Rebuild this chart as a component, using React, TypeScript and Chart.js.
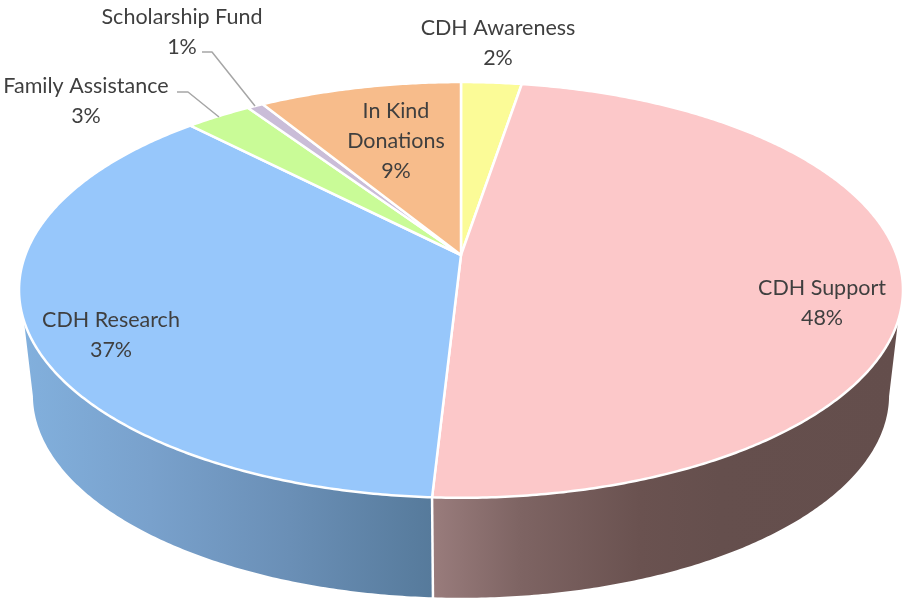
import React, { useEffect, useRef } from "react";
import { Chart, registerables } from "chart.js";

Chart.register(...registerables);

const categories = ["CDH Awareness", "CDH Support", "CDH Research", "Family Assistance", "Scholarship Fund", "In Kind Donations"];
const shares = [2.6, 48.28, 36.87, 2.84, 0.7, 8.71];
const percentLabels = ["2%", "48%", "37%", "3%", "1%", "9%"];
const sliceColors = ["#fbfb97", "#fcc8c9", "#97c7fb", "#c9fb97", "#cabdd8", "#f7bc8b"];

const FONT = "21.5px Lato";
const TEXT = "#3f3f3f";
const LEADER = "#a6a6a6";
const labelLayout: { x: number; y: number; lines: string[] }[] = [
  { x: 498, y: 28, lines: ["CDH Awareness"] },
  { x: 822, y: 288, lines: ["CDH Support"] },
  { x: 111, y: 320, lines: ["CDH Research"] },
  { x: 86, y: 86, lines: ["Family Assistance"] },
  { x: 182, y: 17, lines: ["Scholarship Fund"] },
  { x: 396, y: 111, lines: ["In Kind", "Donations"] },
];
const leaders: number[][][] = [
  [[177, 92], [188, 92], [219, 117]],
  [[202, 52], [212, 52], [255, 106]],
];

// Projection of the flat pie to the tilted perspective view
const TOP = { x0: 461, y0: 255, c: 435.7, b: 202, a: 0.168 };
const BOTTOM = { x0: 461, y0: 361, c: 422, b: 197, a: 0.168 };
const deg = Math.PI / 180;

function project(p: typeof TOP, angle: number, r = 1) {
  const u = r * Math.cos(angle);
  const v = r * Math.sin(angle);
  const w = 1 - p.a * v;
  return { x: p.x0 + (p.c * u) / w, y: p.y0 + (p.b * v) / w };
}

function rim(p: typeof TOP, from: number, to: number) {
  const n = Math.max(2, Math.ceil(Math.abs(to - from) / (0.5 * deg)));
  const out: { x: number; y: number }[] = [];
  for (let i = 0; i <= n; i++) out.push(project(p, from + ((to - from) * i) / n));
  return out;
}

const piePerspective = {
  id: "piePerspective",
  beforeDatasetsDraw(chart: any) {
    const ctx: CanvasRenderingContext2D = chart.ctx;
    const arcs = chart.getDatasetMeta(0).data as any[];

    const wallFill = (index: number) => {
      const g = ctx.createLinearGradient(22, 0, 900, 0);
      if (index === 1) {
        g.addColorStop(0.468, "#997c7c");
        g.addColorStop(0.567, "#7e6463");
        g.addColorStop(0.704, "#6a5250");
        g.addColorStop(0.795, "#654f4d");
        g.addColorStop(1, "#644e4c");
      } else {
        g.addColorStop(0, "#82b0dd");
        g.addColorStop(0.146, "#79a1cc");
        g.addColorStop(0.305, "#6a8fb6");
        g.addColorStop(0.468, "#567a9b");
      }
      return g;
    };

    // side wall
    arcs.forEach((arc, i) => {
      const topFrom = Math.max(arc.startAngle, 18 * deg);
      const topTo = Math.min(arc.endAngle, 162 * deg);
      const botFrom = Math.max(arc.startAngle, 10 * deg);
      const botTo = Math.min(arc.endAngle, 170 * deg);
      if (topTo <= topFrom) return;
      const pts = [...rim(TOP, topFrom, topTo), ...rim(BOTTOM, botTo, botFrom)];
      ctx.beginPath();
      pts.forEach((p, k) => (k ? ctx.lineTo(p.x, p.y) : ctx.moveTo(p.x, p.y)));
      ctx.closePath();
      ctx.fillStyle = wallFill(i);
      ctx.fill();
    });
    // seams on the wall
    ctx.strokeStyle = "#ffffff";
    ctx.lineWidth = 2.5;
    arcs.forEach((arc) => {
      const a = arc.endAngle;
      if (a > 18 * deg && a < 162 * deg) {
        const t = project(TOP, a);
        const b = project(BOTTOM, a);
        ctx.beginPath();
        ctx.moveTo(t.x, t.y);
        ctx.lineTo(b.x, b.y + 2);
        ctx.stroke();
      }
    });
    // top face
    arcs.forEach((arc, i) => {
      const pts = rim(TOP, arc.startAngle, arc.endAngle);
      ctx.beginPath();
      ctx.moveTo(TOP.x0, TOP.y0);
      pts.forEach((p) => ctx.lineTo(p.x, p.y));
      ctx.closePath();
      ctx.fillStyle = sliceColors[i];
      ctx.fill();
      ctx.lineJoin = "round";
      ctx.strokeStyle = "#ffffff";
      ctx.lineWidth = 2.5;
      ctx.stroke();
    });
    // leader lines
    ctx.strokeStyle = LEADER;
    ctx.lineWidth = 1.5;
    leaders.forEach((line) => {
      ctx.beginPath();
      line.forEach(([x, y], k) => (k ? ctx.lineTo(x, y) : ctx.moveTo(x, y)));
      ctx.stroke();
    });
    // labels
    ctx.font = FONT;
    ctx.fillStyle = TEXT;
    ctx.textAlign = "center";
    ctx.textBaseline = "middle";
    labelLayout.forEach((l, i) => {
      [...l.lines, percentLabels[i]].forEach((t, k) => ctx.fillText(t, l.x, l.y + k * 30));
    });
    return false;
  },
};

export default function App() {
  const ref = useRef<HTMLCanvasElement>(null);
  useEffect(() => {
    const chart = new Chart(ref.current!, {
      type: "pie",
      data: {
        labels: categories,
        datasets: [{ data: shares, backgroundColor: sliceColors, borderColor: "#ffffff" }],
      },
      options: {
        animation: false,
        responsive: false,
        plugins: { legend: { display: false }, tooltip: { enabled: false } },
      },
      plugins: [piePerspective],
    } as any);
    return () => chart.destroy();
  }, []);
  return (
    <div style={{ position: "absolute", left: 0, top: 0, width: 904, height: 599, background: "#fff" }}>
      <canvas ref={ref} width={904} height={599} style={{ display: "block" }} />
    </div>
  );
}
